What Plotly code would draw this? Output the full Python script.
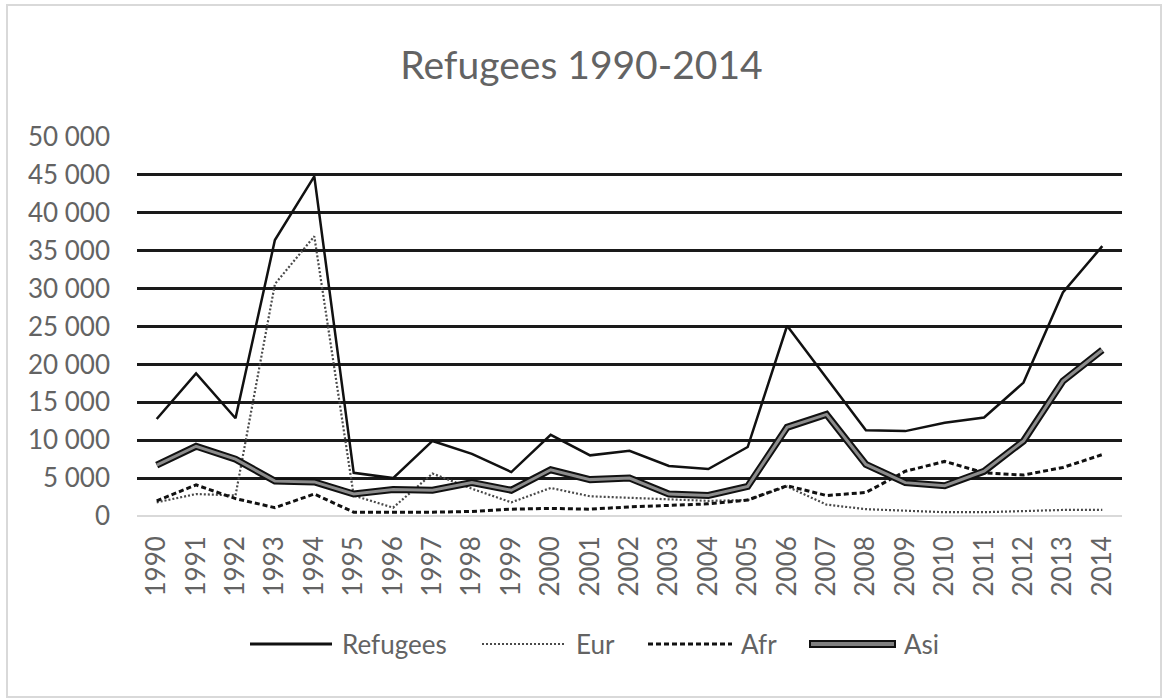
import plotly.graph_objects as go

# Annual refugee intake by region of origin, 1990-2014
years = [str(y) for y in range(1990, 2015)]

refugees = [12800, 18800, 12900, 36400, 44800, 5700, 5000, 9900, 8200, 5800,
            10700, 8000, 8600, 6600, 6200, 9100, 25100, 18200, 11300, 11200,
            12300, 13000, 17600, 29500, 35600]
eur = [1800, 2900, 2700, 30600, 36900, 2700, 1100, 5600, 3600, 1800,
       3700, 2600, 2400, 2200, 2000, 2100, 3900, 1500, 900, 700,
       500, 500, 600, 800, 800]
afr = [2000, 4100, 2300, 1100, 2900, 500, 500, 500, 600, 900,
       1000, 900, 1200, 1400, 1600, 2100, 4000, 2700, 3100, 5900,
       7200, 5700, 5400, 6400, 8100]
asi = [6700, 9200, 7500, 4600, 4500, 2900, 3500, 3400, 4400, 3400,
       6100, 4800, 5000, 2900, 2700, 3900, 11700, 13400, 6800, 4400,
       4000, 5900, 9900, 17800, 21900]

y_ticks = list(range(0, 50001, 5000))

FONT = "Lato, 'Open Sans', sans-serif"
TEXT = "#636363"
W, H = 1163, 698
L, R, T, B = 137, 1122, 137, 516   # plot area in pixels

EUR_LINE = dict(color="#4a4a4a", width=2.2, dash="2px,2px")
AFR_LINE = dict(color="#111111", width=3, dash="5px,3px")


def px_x(x):
    return (x - L) / (R - L)


def px_y(y):
    return (B - y) / (B - T)


fig = go.Figure()

fig.add_trace(go.Scatter(x=years, y=refugees, mode="lines", name="Refugees",
                         line=dict(color="#111111", width=2.5)))
fig.add_trace(go.Scatter(x=years, y=eur, mode="lines", name="Eur", line=EUR_LINE))
fig.add_trace(go.Scatter(x=years, y=afr, mode="lines", name="Afr", line=AFR_LINE))
# double-line style: dark casing with a grey core
fig.add_trace(go.Scatter(x=years, y=asi, mode="lines", name="Asi",
                         line=dict(color="#111111", width=7)))
fig.add_trace(go.Scatter(x=years, y=asi, mode="lines", name="Asi core",
                         line=dict(color="#8c8c8c", width=3)))

shapes = []
# outer chart border
shapes.append(dict(type="rect", xref="paper", yref="paper",
                   x0=px_x(7), x1=px_x(1161), y0=px_y(697), y1=px_y(5),
                   line=dict(color="#d9d9d9", width=2), layer="below"))

# legend row
ly = px_y(644)
legend_items = [
    ("Refugees", 250, 332, 340, dict(color="#111111", width=3)),
    ("Eur", 482, 566, 574, EUR_LINE),
    ("Afr", 648, 732, 739, AFR_LINE),
]
annotations = []
for name, x0, x1, tx, ln in legend_items:
    shapes.append(dict(type="line", xref="paper", yref="paper",
                       x0=px_x(x0), x1=px_x(x1), y0=ly, y1=ly, line=ln))
    annotations.append(dict(text=name, xref="paper", yref="paper",
                            x=px_x(tx), y=ly, xanchor="left", yanchor="middle",
                            showarrow=False, font=dict(family=FONT, size=26, color=TEXT)))
shapes.append(dict(type="line", xref="paper", yref="paper",
                   x0=px_x(809), x1=px_x(896), y0=ly, y1=ly,
                   line=dict(color="#111111", width=8)))
shapes.append(dict(type="line", xref="paper", yref="paper",
                   x0=px_x(811), x1=px_x(894), y0=ly, y1=ly,
                   line=dict(color="#808080", width=4)))
annotations.append(dict(text="Asi", xref="paper", yref="paper",
                        x=px_x(902), y=ly, xanchor="left", yanchor="middle",
                        showarrow=False, font=dict(family=FONT, size=26, color=TEXT)))

fig.update_layout(
    width=W, height=H,
    margin=dict(l=L, r=W - R, t=T, b=H - B, pad=0),
    paper_bgcolor="white", plot_bgcolor="white",
    separators=". ",
    showlegend=False,
    title=dict(text="Refugees 1990-2014", x=0.5, xanchor="center",
               y=1 - 65 / H, yanchor="middle",
               font=dict(family=FONT, size=39, color=TEXT)),
    font=dict(family=FONT, size=26, color=TEXT),
    shapes=shapes,
    annotations=annotations,
)

fig.update_xaxes(type="category", range=[-0.5, len(years) - 0.5],
                 tickangle=-90, showgrid=False,
                 showline=False, zeroline=False, ticks="",
                 ticklabelstandoff=14,
                 tickfont=dict(family=FONT, size=26, color=TEXT))
fig.update_yaxes(range=[0, 50000], tickvals=y_ticks, tickformat=",d",
                 showgrid=True, gridcolor="#1a1a1a", gridwidth=3,
                 zeroline=True, zerolinecolor="#d9d9d9", zerolinewidth=2,
                 showline=False, ticks="", ticklabelstandoff=26,
                 tickfont=dict(family=FONT, size=26, color=TEXT))

fig.write_html("out.html")
